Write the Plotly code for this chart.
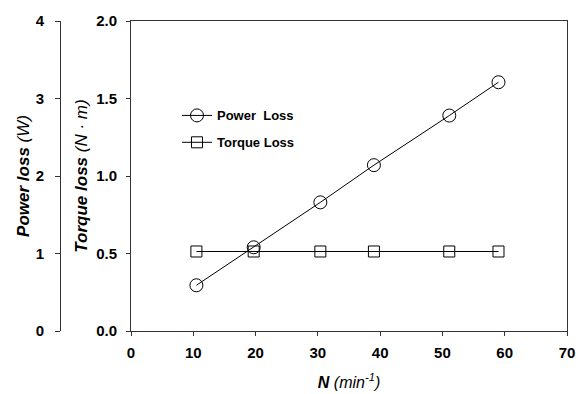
import plotly.graph_objects as go

speed = [10.5, 19.7, 30.4, 39.0, 51.1, 59.0]
power_loss = [0.59, 1.08, 1.66, 2.14, 2.78, 3.21]
torque_loss = [0.513, 0.513, 0.513, 0.513, 0.513, 0.513]
x_ticks = [0, 10, 20, 30, 40, 50, 60, 70]
torque_ticks = [0.0, 0.5, 1.0, 1.5, 2.0]
power_ticks = [0, 1, 2, 3, 4]

FONT = "Liberation Sans, Arial, sans-serif"
W, H = 583, 394
ML, MR, MT, MB = 60, 16, 15, 63
inner_left_px = 131
paper_w = W - ML - MR
x_start = (inner_left_px - ML) / paper_w


def bold(vals, fmt):
    return ["<b>" + format(v, fmt) + "</b>" for v in vals]


fig = go.Figure()
fig.add_trace(go.Scatter(
    x=speed, y=power_loss, yaxis="y2", name="Power  Loss", mode="lines+markers",
    line=dict(color="black", width=1),
    marker=dict(symbol="circle-open", size=13, color="black", line=dict(width=1)),
    legendgroup="p",
))
fig.add_trace(go.Scatter(
    x=speed, y=torque_loss, yaxis="y", name="Torque Loss", mode="lines+markers",
    line=dict(color="black", width=1),
    marker=dict(symbol="square-open", size=11, color="black", line=dict(width=1)),
    legendgroup="t",
))

axcol = "#333333"
fig.update_layout(
    width=W, height=H,
    margin=dict(l=ML, r=MR, t=MT, b=MB, pad=0),
    paper_bgcolor="white", plot_bgcolor="white",
    font=dict(family=FONT, color="black"),
    xaxis=dict(
        domain=[x_start, 1], range=[0, 70],
        tickvals=x_ticks, ticktext=bold(x_ticks, "d"),
        showgrid=False, zeroline=False,
        showline=True, linecolor=axcol, linewidth=1, mirror=True,
        ticks="outside", ticklen=4, tickcolor=axcol, tickwidth=1,
        tickfont=dict(size=15, family=FONT),
        ticklabelstandoff=4,
        title=dict(text="<b><i>N</i></b><i> (min<sup>-1</sup>)</i>",
                   font=dict(size=16, family=FONT), standoff=16),
        automargin=False,
    ),
    yaxis=dict(
        range=[0, 2], tickvals=torque_ticks, ticktext=bold(torque_ticks, ".1f"),
        showgrid=False, zeroline=False,
        showline=True, linecolor=axcol, linewidth=1, mirror=True,
        ticks="outside", ticklen=4, tickcolor=axcol, tickwidth=1,
        tickfont=dict(size=15, family=FONT),
        ticklabelstandoff=6,
        title=dict(text="<b><i>Torque loss</i></b><i> (N · m)</i>",
                   font=dict(size=17, family=FONT), standoff=4),
        automargin=True,
    ),
    yaxis2=dict(
        range=[0, 4], tickvals=power_ticks, ticktext=bold(power_ticks, "d"),
        anchor="free", position=0, overlaying="y", side="left",
        showgrid=False, zeroline=False,
        showline=True, linecolor=axcol, linewidth=1,
        ticks="outside", ticklen=5, tickcolor=axcol, tickwidth=1,
        tickfont=dict(size=15, family=FONT),
        ticklabelstandoff=8,
        title=dict(text="<b><i>Power loss</i></b><i> (W)</i>",
                   font=dict(size=17, family=FONT), standoff=0),
        automargin=True,
    ),
    legend=dict(
        x=(177 - ML) / paper_w, y=(331 - 96) / 316, xanchor="left", yanchor="top",
        bgcolor="rgba(0,0,0,0)", borderwidth=0,
        font=dict(size=13, family=FONT, weight="bold"),
        traceorder="grouped", tracegroupgap=7,
    ),
    showlegend=True,
)

fig.write_html("out.html")
